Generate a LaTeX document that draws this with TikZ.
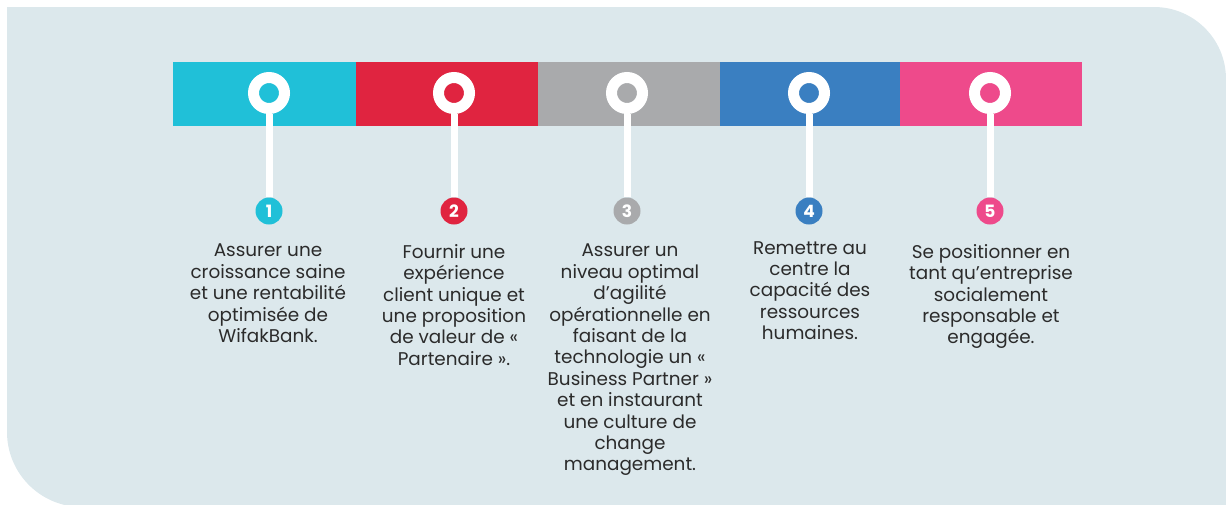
\documentclass[tikz,border=0pt]{standalone}
\usepackage{fontspec}
\setmainfont{Poppins}
\usetikzlibrary{shapes}

\definecolor{bgfill}{HTML}{DCE8EC}
\definecolor{segcyan}{HTML}{20C0D8}
\definecolor{segred}{HTML}{E02440}
\definecolor{seggray}{HTML}{A9AAAC}
\definecolor{segblue}{HTML}{3A7FC1}
\definecolor{segpink}{HTML}{EE4A8B}
\definecolor{txtdark}{HTML}{2B2B2B}

\begin{document}
\begin{tikzpicture}[x=1pt,y=-1pt,
    ring/.style={circle,draw=white,line width=11pt,minimum size=31pt,inner sep=0pt},
    badge/.style={circle,minimum size=27pt,inner sep=0pt,text=white,font=\fontsize{17}{17}\selectfont\bfseries},
    stick/.style={draw=white,line width=7pt},
    desc/.style={anchor=north,align=center,inner sep=0pt,text=txtdark,font=\fontsize{18.4}{21.4}\selectfont}]
        \useasboundingbox (0,0) rectangle (1226,504);
        \fill[bgfill] (7,7) -- (1154,7) arc[start angle=270,end angle=360,radius=72] -- (1235,79) -- (1235,520) -- (82,520) -- (82,507) arc[start angle=90,end angle=180,radius=75] -- cycle;

        \fill[segcyan] (173,62) rectangle (356,126);
        \fill[segred]  (356,62) rectangle (538,126);
        \fill[seggray] (538,62) rectangle (720,126);
        \fill[segblue] (720,62) rectangle (900,126);
        \fill[segpink] (900,62) rectangle (1082,126);

        \node[ring,fill=segcyan] (r1) at (269,93) {};
        \node[ring,fill=segred]  (r2) at (454,93) {};
        \node[ring,fill=seggray] (r3) at (627,93) {};
        \node[ring,fill=segblue] (r4) at (809,93) {};
        \node[ring,fill=segpink] (r5) at (990,93) {};

        \node[badge,fill=segcyan] (b1) at (269,211) {1};
        \node[badge,fill=segred]  (b2) at (454,211) {2};
        \node[badge,fill=seggray] (b3) at (627,211) {3};
        \node[badge,fill=segblue] (b4) at (809,211) {4};
        \node[badge,fill=segpink] (b5) at (990,211) {5};

        \draw[stick] (r1) -- (b1);
        \draw[stick] (r2) -- (b2);
        \draw[stick] (r3) -- (b3);
        \draw[stick] (r4) -- (b4);
        \draw[stick] (r5) -- (b5);

        \node[desc] (t1) at (268,244) {Assurer une\\croissance saine\\et une rentabilité\\optimisée de\\WifakBank.};
        \node[desc] (t2) at (454,244) {Fournir une\\expérience\\client unique et\\une proposition\\de valeur de «\\Partenaire ».};
        \node[desc] (t3) at (630,244) {Assurer un\\niveau optimal\\d’agilité\\opérationnelle en\\faisant de la\\technologie un «\\Business Partner »\\et en instaurant\\une culture de\\change\\management.};
        \node[desc] (t4) at (810,241) {Remettre au\\centre la\\capacité des\\ressources\\humaines.};
        \node[desc] (t5) at (991,244) {Se positionner en\\tant qu’entreprise\\socialement\\responsable et\\engagée.};
      \end{tikzpicture}
\end{document}
